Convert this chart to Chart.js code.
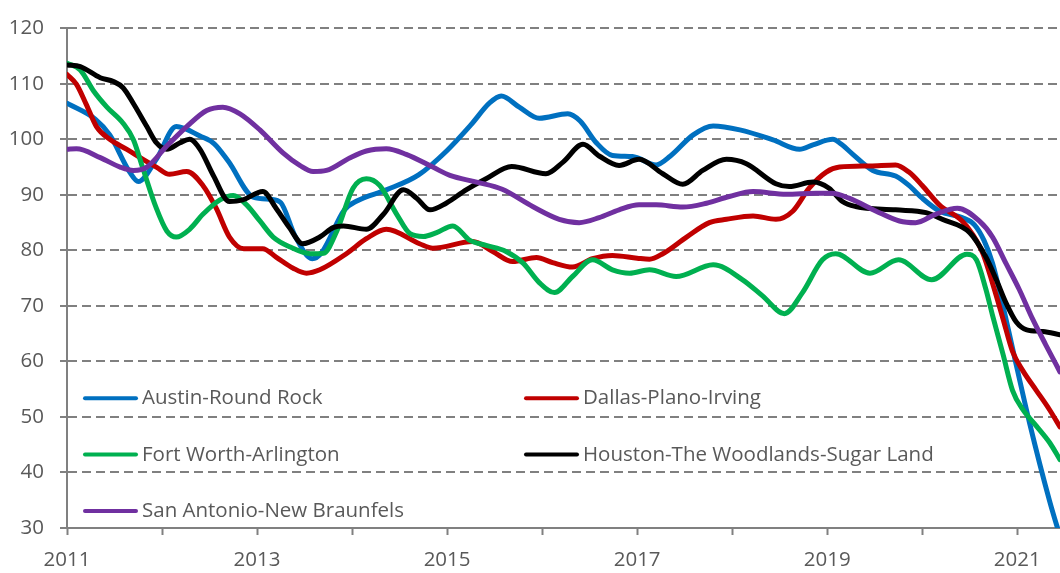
<!DOCTYPE html>
<html>
<head>
<meta charset="utf-8">
<script src="https://cdn.jsdelivr.net/npm/chart.js@4.4.0/dist/chart.umd.min.js"></script>
<style>
  html, body { margin: 0; padding: 0; background: #fff; }
  #wrap { width: 1060px; height: 573px; }
</style>
</head>
<body>
<div id="wrap"><canvas id="lineChart"></canvas></div>
<script>

// metro names, in legend order
var metros = ["Austin-Round Rock", "Dallas-Plano-Irving", "Fort Worth-Arlington",
              "Houston-The Woodlands-Sugar Land", "San Antonio-New Braunfels"];
var metroColors = ["#0070C0", "#C00000", "#00B050", "#000000", "#7030A0"];

// [year, index]
var austin = [[2011.00,106.5],[2011.30,103.6],[2011.45,100.8],[2011.66,94.1],[2011.75,92.4],[2011.94,96.4],
  [2012.15,102.3],[2012.40,100.6],[2012.55,99.2],[2012.70,96.0],[2012.96,89.6],[2013.15,89.2],[2013.25,88.6],
  [2013.40,82.6],[2013.58,78.5],[2013.68,79.6],[2013.92,87.3],[2014.05,88.9],[2014.36,90.9],[2014.70,93.6],
  [2015.00,98.0],[2015.25,102.6],[2015.45,106.6],[2015.57,107.8],[2015.76,105.8],[2015.97,103.8],[2016.27,104.6],
  [2016.40,103.3],[2016.57,99.4],[2016.74,97.1],[2016.95,96.9],[2017.20,95.4],[2017.35,97.0],[2017.59,100.8],
  [2017.80,102.4],[2018.08,101.7],[2018.43,99.9],[2018.71,98.2],[2018.85,99.0],[2019.06,100.0],[2019.15,99.1],
  [2019.27,97.3],[2019.48,94.4],[2019.72,93.4],[2019.86,91.7],[2020.00,89.4],[2020.18,87.1],[2020.42,85.9],
  [2020.55,84.6],[2020.65,81.8],[2020.74,77.7],[2020.85,70.0],[2020.95,62.4],[2021.13,48.9],[2021.34,34.9],
  [2021.45,28.5]];

var dallas = [[2011.00,111.7],[2011.10,109.9],[2011.20,106.4],[2011.31,102.3],[2011.45,100.0],[2011.63,98.2],
  [2011.80,96.4],[2011.94,95.0],[2012.08,93.7],[2012.26,94.2],[2012.43,91.7],[2012.57,87.6],[2012.71,82.4],
  [2012.86,80.3],[2013.06,80.3],[2013.20,78.8],[2013.38,76.8],[2013.52,75.9],[2013.66,76.5],[2013.94,79.4],
  [2014.15,82.1],[2014.36,83.8],[2014.71,81.2],[2014.85,80.4],[2015.27,81.6],[2015.48,79.8],[2015.69,78.0],
  [2015.94,78.7],[2016.11,77.8],[2016.32,77.0],[2016.53,78.5],[2016.74,79.1],[2017.00,78.6],[2017.13,78.4],
  [2017.27,79.4],[2017.52,82.4],[2017.76,85.0],[2017.94,85.6],[2018.22,86.2],[2018.46,85.6],[2018.64,87.1],
  [2018.81,91.2],[2018.99,94.1],[2019.13,95.0],[2019.45,95.2],[2019.72,95.4],[2019.86,94.1],[2020.00,91.7],
  [2020.18,88.2],[2020.42,85.3],[2020.53,82.9],[2020.64,79.4],[2020.74,74.1],[2020.85,67.7],[2020.95,61.8],
  [2021.06,58.3],[2021.20,54.8],[2021.34,51.3],[2021.45,48.2]];

var fortWorth = [[2011.00,113.7],[2011.14,112.5],[2011.28,108.7],[2011.42,105.8],[2011.59,102.9],[2011.70,99.9],
  [2011.80,94.7],[2011.94,87.6],[2012.05,83.5],[2012.15,82.4],[2012.29,83.8],[2012.43,86.5],[2012.61,89.1],
  [2012.75,89.9],[2012.89,88.2],[2013.03,85.3],[2013.17,82.4],[2013.35,80.6],[2013.56,79.4],[2013.70,79.5],
  [2013.84,83.5],[2014.01,91.2],[2014.15,92.9],[2014.29,91.7],[2014.47,86.5],[2014.61,83.0],[2014.75,82.5],
  [2014.89,83.2],[2015.06,84.4],[2015.24,81.8],[2015.41,80.9],[2015.62,79.8],[2015.80,77.7],[2015.97,74.2],
  [2016.13,72.4],[2016.32,75.3],[2016.53,78.3],[2016.74,76.5],[2016.92,75.9],[2017.13,76.5],[2017.41,75.3],
  [2017.80,77.4],[2018.11,74.7],[2018.32,71.8],[2018.55,68.6],[2018.74,72.4],[2018.95,78.3],[2019.09,79.4],
  [2019.45,75.9],[2019.75,78.3],[2020.10,74.7],[2020.47,79.3],[2020.57,78.3],[2020.67,73.0],[2020.74,68.3],
  [2020.85,61.3],[2020.95,54.8],[2021.06,51.3],[2021.20,48.4],[2021.34,45.4],[2021.45,42.3]];

var houston = [[2011.00,113.4],[2011.14,113.1],[2011.35,111.1],[2011.49,110.4],[2011.59,109.3],[2011.70,106.4],
  [2011.84,102.3],[2011.94,99.4],[2012.05,98.2],[2012.19,99.4],[2012.29,100.0],[2012.40,98.2],[2012.54,93.5],
  [2012.71,88.8],[2012.85,89.1],[2013.06,90.6],[2013.20,87.6],[2013.34,84.1],[2013.48,81.2],[2013.66,82.4],
  [2013.80,84.1],[2013.91,84.4],[2014.15,83.8],[2014.33,86.5],[2014.54,90.9],[2014.68,89.4],[2014.82,87.3],
  [2014.99,88.5],[2015.20,90.9],[2015.41,92.9],[2015.68,95.1],[2016.04,93.8],[2016.22,95.9],[2016.43,99.1],
  [2016.60,97.0],[2016.81,95.3],[2017.02,96.4],[2017.27,93.8],[2017.48,91.9],[2017.69,94.4],[2017.94,96.4],
  [2018.15,95.6],[2018.46,92.0],[2018.60,91.5],[2018.85,92.3],[2019.02,91.2],[2019.16,88.8],[2019.30,87.9],
  [2019.72,87.3],[2020.04,86.8],[2020.21,85.6],[2020.50,83.2],[2020.67,78.8],[2020.78,74.7],[2020.88,70.6],
  [2020.99,67.1],[2021.10,65.7],[2021.27,65.4],[2021.45,64.8]];

var sanAntonio = [[2011.00,98.2],[2011.10,98.3],[2011.35,96.7],[2011.56,95.0],[2011.70,94.4],[2011.84,95.0],
  [2012.05,98.8],[2012.26,102.3],[2012.47,105.2],[2012.64,105.8],[2012.82,104.6],[2013.03,101.7],[2013.27,97.6],
  [2013.45,95.3],[2013.59,94.2],[2013.73,94.4],[2013.98,96.7],[2014.15,97.9],[2014.36,98.3],[2014.57,97.3],
  [2014.85,95.0],[2015.03,93.5],[2015.31,92.3],[2015.58,91.0],[2015.90,87.9],[2016.18,85.6],[2016.39,85.0],
  [2016.60,85.9],[2016.81,87.3],[2017.02,88.2],[2017.20,88.2],[2017.48,87.8],[2017.73,88.5],[2017.97,89.7],
  [2018.22,90.6],[2018.57,90.1],[2018.88,90.3],[2019.05,90.3],[2019.23,89.4],[2019.51,87.1],[2019.76,85.3],
  [2019.93,85.0],[2020.14,86.5],[2020.37,87.6],[2020.60,85.3],[2020.74,82.4],[2020.88,77.7],[2021.02,73.0],
  [2021.16,67.7],[2021.30,63.0],[2021.45,58.1]];

var metroSeries = [austin, dallas, fortWorth, houston, sanAntonio];

// only odd years get a label, every year gets a tick mark
var labelYears = [2011, 2013, 2015, 2017, 2019, 2021];

var axisGrey = '#808080';
var textGrey = '#595959';
var fontSize = 20.5;

// legend sits inside the plot, two columns
var insideLegend = {
    id: 'insideLegend',
    afterDatasetsDraw: function (chart) {
        var ctx = chart.ctx;
        var area = chart.chartArea;
        ctx.save();
        ctx.font = fontSize + 'px "Open Sans"';
        ctx.fillStyle = textGrey;
        ctx.textBaseline = 'alphabetic';
        ctx.lineCap = 'round';
        ctx.lineWidth = 4;
        chart.data.datasets.forEach(function (ds, i) {
            var col = i % 2;
            var row = Math.floor(i / 2);
            var x = area.left + 18 + col * 441;
            var y = area.top + 370 + row * 56.3;
            ctx.strokeStyle = ds.borderColor;
            ctx.beginPath();
            ctx.moveTo(x, y);
            ctx.lineTo(x + 51, y);
            ctx.stroke();
            ctx.fillText(ds.label, x + 57, y + 6);
        });
        ctx.restore();
    }
};

var ctxL = document.getElementById('lineChart').getContext('2d');
var metroChart = new Chart(ctxL, {
    type: 'line',
    data: {
        datasets: metros.map(function (name, i) {
            return {
                label: name,
                data: metroSeries[i].map(function (p) { return {x: p[0], y: p[1]}; }),
                borderColor: metroColors[i],
                backgroundColor: metroColors[i],
                borderWidth: 5,
                pointRadius: 0,
                fill: false,
                cubicInterpolationMode: 'monotone',
                borderCapStyle: 'round',
                borderJoinStyle: 'round',
                clip: 0,
                order: metros.length - i
            };
        })
    },
    options: {
        responsive: true,
        maintainAspectRatio: false,
        animation: false,
        events: [],
        layout: { padding: { top: 16, right: 0, bottom: 0, left: 0 } },
        plugins: {
            legend: { display: false },
            tooltip: { enabled: false }
        },
        scales: {
            x: {
                type: 'linear',
                min: 2011,
                max: 2021.45,
                afterFit: function (s) { s.height = 45; },
                border: { display: true, color: axisGrey, width: 2 },
                grid: {
                    display: true,
                    drawOnChartArea: false,
                    drawTicks: true,
                    tickLength: 7,
                    tickColor: axisGrey,
                    tickWidth: 2
                },
                ticks: {
                    stepSize: 1,
                    includeBounds: false,
                    autoSkip: false,
                    maxRotation: 0,
                    padding: 13,
                    color: textGrey,
                    font: { family: '"Open Sans"', size: fontSize },
                    callback: function (v) {
                        return labelYears.indexOf(v) >= 0 ? String(v) : '';
                    }
                }
            },
            y: {
                min: 30,
                max: 120,
                afterFit: function (s) { s.width = 67; },
                border: { display: true, color: axisGrey, width: 2, dash: [9, 5] },
                grid: {
                    color: axisGrey,
                    lineWidth: 2,
                    drawTicks: true,
                    tickLength: 7,
                    tickColor: axisGrey,
                    tickWidth: 2
                },
                ticks: {
                    stepSize: 10,
                    padding: 16,
                    color: textGrey,
                    font: { family: '"Open Sans"', size: fontSize }
                }
            }
        }
    },
    plugins: [insideLegend]
});

</script>
</body>
</html>
